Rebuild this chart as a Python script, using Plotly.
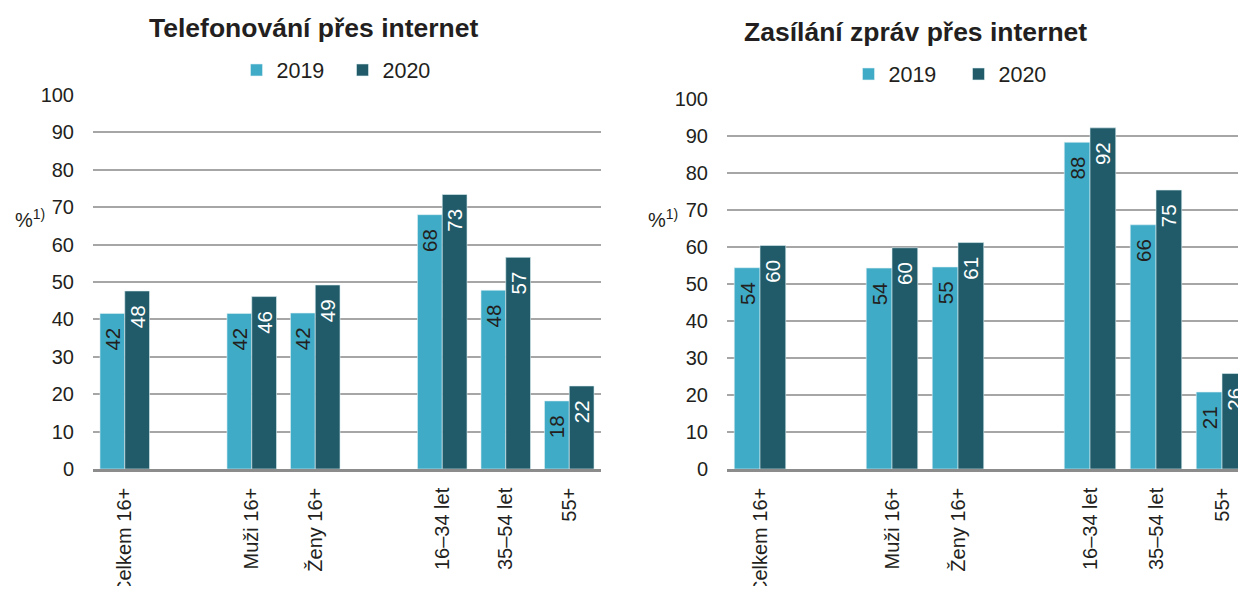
import plotly.graph_objects as go

categories = ["Celkem 16+", "Muži 16+", "Ženy 16+", "16–34 let", "35–54 let", "55+"]
years = ["2019", "2020"]

# Telefonování přes internet
tel_2019 = [41.6, 41.6, 41.7, 68.0, 47.8, 18.2]
tel_2020 = [47.6, 46.1, 49.2, 73.4, 56.6, 22.2]
# Zasílání zpráv přes internet
msg_2019 = [54.4, 54.3, 54.6, 88.3, 66.0, 20.8]
msg_2020 = [60.4, 59.8, 61.2, 92.2, 75.4, 25.8]

titles = ["Telefonování přes internet", "Zasílání zpráv přes internet"]
y_ticks = [0, 10, 20, 30, 40, 50, 60, 70, 80, 90, 100]

# layout: slot index of each category on the axis (gaps between groups)
slot = [0, 2, 3, 5, 6, 7]

C19 = "#3fabc7"
C20 = "#215b69"
TXT = "#231f20"
FONT = "Liberation Sans, Arial, sans-serif"

# page body has an 8px margin: figure drawn offset by (8, 8); keep it inside the window
OFF = 8
W = 1246.0 - 2 * OFF
H = 594.0 - 2 * OFF


def px(x):
    return (x - OFF) / W


def py(y):
    return (H - (y - OFF)) / H


fig = go.Figure()

PAD = "\u00a0\u00a0"  # keeps the value label a little below the bar top


def add(vals, name, color, tcolor, xa, ya, leg):
    fig.add_trace(go.Bar(
        x=slot, y=vals, name=name, marker=dict(color=color, line=dict(width=0.6, color="#dff0f4")),
        text=[f"{round(v):d}{PAD}" for v in vals], textposition="inside", insidetextanchor="end",
        textangle=-90, textfont=dict(size=20.5, color=tcolor, family=FONT),
        constraintext="none", cliponaxis=False,
        xaxis=xa, yaxis=ya, legend=leg, showlegend=True,
    ))


add(tel_2019, years[0], C19, TXT, "x", "y", "legend")
add(tel_2020, years[1], C20, "white", "x", "y", "legend")
add(msg_2019, years[0], C19, TXT, "x2", "y2", "legend2")
add(msg_2020, years[1], C20, "white", "x2", "y2", "legend2")

xcommon = dict(
    tickmode="array", tickvals=slot, ticktext=categories, tickangle=-90,
    tickfont=dict(size=20, color=TXT, family=FONT), showgrid=False,
    showline=True, linecolor="#8c8c8c", linewidth=2.5, ticks="",
    ticklabelstandoff=8, automargin=False, fixedrange=True,
)
ycommon = dict(
    range=[0, 100], tickvals=y_ticks, showgrid=True, gridcolor="#a6a6a6", gridwidth=1.5,
    zeroline=False, showline=False, tickfont=dict(size=20, color=TXT, family=FONT),
    ticklabelstandoff=18, automargin=False,
)

legfont = dict(size=21.5, color=TXT, family=FONT)
slot_px = 66.0
right_end = -0.5 + (W - (727 - OFF)) / slot_px

fig.update_layout(
    width=int(W), height=int(H), margin=dict(l=0, r=0, t=0, b=0),
    paper_bgcolor="white", plot_bgcolor="white",
    barmode="group", bargap=0.22, bargroupgap=0,
    font=dict(family=FONT, color=TXT),
    xaxis=dict(domain=[px(93), px(601)], range=[-0.5, 7.5], anchor="y", **xcommon),
    yaxis=dict(domain=[py(469), py(95)], anchor="x", **ycommon),
    xaxis2=dict(domain=[px(727), 1.0], range=[-0.5, right_end], anchor="y2", **xcommon),
    yaxis2=dict(domain=[py(469), py(99)], anchor="x2", **ycommon),
    legend=dict(orientation="h", x=px(342.5), xanchor="center", y=py(70), yanchor="middle",
                font=legfont, itemwidth=30, entrywidth=61, bgcolor="rgba(0,0,0,0)"),
    legend2=dict(orientation="h", x=px(958.5), xanchor="center", y=py(74), yanchor="middle",
                 font=legfont, itemwidth=30, entrywidth=65, bgcolor="rgba(0,0,0,0)"),
    showlegend=True,
)

fig.add_annotation(text=f"<b>{titles[0]}</b>", x=px(314), y=py(28), xref="paper", yref="paper",
                   xanchor="center", yanchor="middle",
                   showarrow=False, font=dict(size=26.5, color=TXT, family=FONT))
fig.add_annotation(text=f"<b>{titles[1]}</b>", x=px(916), y=py(32), xref="paper", yref="paper",
                   xanchor="center", yanchor="middle",
                   showarrow=False, font=dict(size=26.5, color=TXT, family=FONT))
fig.add_annotation(text="%<sup>1)</sup>", x=px(30), y=py(218), xref="paper", yref="paper",
                   xanchor="center", yanchor="middle",
                   showarrow=False, font=dict(size=20, color=TXT, family=FONT))
fig.add_annotation(text="%<sup>1)</sup>", x=px(663), y=py(218), xref="paper", yref="paper",
                   xanchor="center", yanchor="middle",
                   showarrow=False, font=dict(size=20, color=TXT, family=FONT))

fig.write_html("out.html")
